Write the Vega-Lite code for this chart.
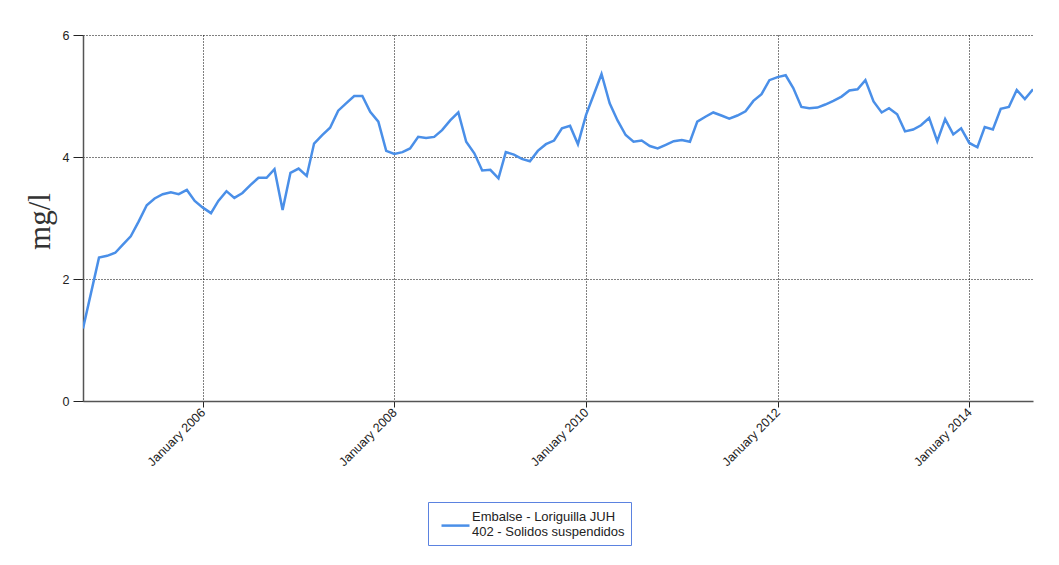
{
  "$schema": "https://vega.github.io/schema/vega-lite/v6.json",
  "width": 950,
  "height": 366,
  "autosize": {"type": "none"},
  "padding": {"left": 83, "top": 35, "right": 26, "bottom": 164},
  "background": "white",
  "config": {
    "view": {"stroke": null},
    "font": "Liberation Sans",
    "axis": {
      "gridColor": "#000000",
      "gridDash": [1, 2],
      "gridOpacity": 1,
      "gridWidth": 1,
      "domainColor": "#555555",
      "domainWidth": 1.5,
      "tickColor": "#222222",
      "tickWidth": 1,
      "labelColor": "#222222",
      "labelFont": "Liberation Sans"
    }
  },
  "data": {
    "values": [
      {"fecha": "2004-10-01", "valor": 1.19, "serie": "s"},
      {"fecha": "2004-12-01", "valor": 2.35, "serie": "s"},
      {"fecha": "2005-01-01", "valor": 2.38, "serie": "s"},
      {"fecha": "2005-02-01", "valor": 2.43, "serie": "s"},
      {"fecha": "2005-03-01", "valor": 2.56, "serie": "s"},
      {"fecha": "2005-04-01", "valor": 2.70, "serie": "s"},
      {"fecha": "2005-05-01", "valor": 2.94, "serie": "s"},
      {"fecha": "2005-06-01", "valor": 3.21, "serie": "s"},
      {"fecha": "2005-07-01", "valor": 3.32, "serie": "s"},
      {"fecha": "2005-08-01", "valor": 3.39, "serie": "s"},
      {"fecha": "2005-09-01", "valor": 3.42, "serie": "s"},
      {"fecha": "2005-10-01", "valor": 3.39, "serie": "s"},
      {"fecha": "2005-11-01", "valor": 3.46, "serie": "s"},
      {"fecha": "2005-12-01", "valor": 3.28, "serie": "s"},
      {"fecha": "2006-01-01", "valor": 3.17, "serie": "s"},
      {"fecha": "2006-02-01", "valor": 3.08, "serie": "s"},
      {"fecha": "2006-03-01", "valor": 3.28, "serie": "s"},
      {"fecha": "2006-04-01", "valor": 3.44, "serie": "s"},
      {"fecha": "2006-05-01", "valor": 3.33, "serie": "s"},
      {"fecha": "2006-06-01", "valor": 3.41, "serie": "s"},
      {"fecha": "2006-07-01", "valor": 3.54, "serie": "s"},
      {"fecha": "2006-08-01", "valor": 3.66, "serie": "s"},
      {"fecha": "2006-09-01", "valor": 3.66, "serie": "s"},
      {"fecha": "2006-10-01", "valor": 3.80, "serie": "s"},
      {"fecha": "2006-11-01", "valor": 3.13, "serie": "s"},
      {"fecha": "2006-12-01", "valor": 3.74, "serie": "s"},
      {"fecha": "2007-01-01", "valor": 3.81, "serie": "s"},
      {"fecha": "2007-02-01", "valor": 3.69, "serie": "s"},
      {"fecha": "2007-03-01", "valor": 4.22, "serie": "s"},
      {"fecha": "2007-04-01", "valor": 4.36, "serie": "s"},
      {"fecha": "2007-05-01", "valor": 4.48, "serie": "s"},
      {"fecha": "2007-06-01", "valor": 4.76, "serie": "s"},
      {"fecha": "2007-07-01", "valor": 4.88, "serie": "s"},
      {"fecha": "2007-08-01", "valor": 5.00, "serie": "s"},
      {"fecha": "2007-09-01", "valor": 5.00, "serie": "s"},
      {"fecha": "2007-10-01", "valor": 4.74, "serie": "s"},
      {"fecha": "2007-11-01", "valor": 4.58, "serie": "s"},
      {"fecha": "2007-12-01", "valor": 4.10, "serie": "s"},
      {"fecha": "2008-01-01", "valor": 4.05, "serie": "s"},
      {"fecha": "2008-02-01", "valor": 4.08, "serie": "s"},
      {"fecha": "2008-03-01", "valor": 4.14, "serie": "s"},
      {"fecha": "2008-04-01", "valor": 4.33, "serie": "s"},
      {"fecha": "2008-05-01", "valor": 4.31, "serie": "s"},
      {"fecha": "2008-06-01", "valor": 4.33, "serie": "s"},
      {"fecha": "2008-07-01", "valor": 4.44, "serie": "s"},
      {"fecha": "2008-08-01", "valor": 4.60, "serie": "s"},
      {"fecha": "2008-09-01", "valor": 4.73, "serie": "s"},
      {"fecha": "2008-10-01", "valor": 4.25, "serie": "s"},
      {"fecha": "2008-11-01", "valor": 4.06, "serie": "s"},
      {"fecha": "2008-12-01", "valor": 3.78, "serie": "s"},
      {"fecha": "2009-01-01", "valor": 3.79, "serie": "s"},
      {"fecha": "2009-02-01", "valor": 3.65, "serie": "s"},
      {"fecha": "2009-03-01", "valor": 4.08, "serie": "s"},
      {"fecha": "2009-04-01", "valor": 4.04, "serie": "s"},
      {"fecha": "2009-05-01", "valor": 3.97, "serie": "s"},
      {"fecha": "2009-06-01", "valor": 3.93, "serie": "s"},
      {"fecha": "2009-07-01", "valor": 4.10, "serie": "s"},
      {"fecha": "2009-08-01", "valor": 4.21, "serie": "s"},
      {"fecha": "2009-09-01", "valor": 4.27, "serie": "s"},
      {"fecha": "2009-10-01", "valor": 4.47, "serie": "s"},
      {"fecha": "2009-11-01", "valor": 4.51, "serie": "s"},
      {"fecha": "2009-12-01", "valor": 4.21, "serie": "s"},
      {"fecha": "2010-01-01", "valor": 4.69, "serie": "s"},
      {"fecha": "2010-02-01", "valor": 5.04, "serie": "s"},
      {"fecha": "2010-03-01", "valor": 5.36, "serie": "s"},
      {"fecha": "2010-04-01", "valor": 4.88, "serie": "s"},
      {"fecha": "2010-05-01", "valor": 4.60, "serie": "s"},
      {"fecha": "2010-06-01", "valor": 4.36, "serie": "s"},
      {"fecha": "2010-07-01", "valor": 4.25, "serie": "s"},
      {"fecha": "2010-08-01", "valor": 4.27, "serie": "s"},
      {"fecha": "2010-09-01", "valor": 4.18, "serie": "s"},
      {"fecha": "2010-10-01", "valor": 4.14, "serie": "s"},
      {"fecha": "2010-11-01", "valor": 4.20, "serie": "s"},
      {"fecha": "2010-12-01", "valor": 4.26, "serie": "s"},
      {"fecha": "2011-01-01", "valor": 4.28, "serie": "s"},
      {"fecha": "2011-02-01", "valor": 4.25, "serie": "s"},
      {"fecha": "2011-03-01", "valor": 4.58, "serie": "s"},
      {"fecha": "2011-04-01", "valor": 4.66, "serie": "s"},
      {"fecha": "2011-05-01", "valor": 4.73, "serie": "s"},
      {"fecha": "2011-06-01", "valor": 4.68, "serie": "s"},
      {"fecha": "2011-07-01", "valor": 4.63, "serie": "s"},
      {"fecha": "2011-08-01", "valor": 4.68, "serie": "s"},
      {"fecha": "2011-09-01", "valor": 4.75, "serie": "s"},
      {"fecha": "2011-10-01", "valor": 4.92, "serie": "s"},
      {"fecha": "2011-11-01", "valor": 5.03, "serie": "s"},
      {"fecha": "2011-12-01", "valor": 5.26, "serie": "s"},
      {"fecha": "2012-01-01", "valor": 5.31, "serie": "s"},
      {"fecha": "2012-02-01", "valor": 5.34, "serie": "s"},
      {"fecha": "2012-03-01", "valor": 5.13, "serie": "s"},
      {"fecha": "2012-04-01", "valor": 4.82, "serie": "s"},
      {"fecha": "2012-05-01", "valor": 4.80, "serie": "s"},
      {"fecha": "2012-06-01", "valor": 4.81, "serie": "s"},
      {"fecha": "2012-07-01", "valor": 4.86, "serie": "s"},
      {"fecha": "2012-08-01", "valor": 4.92, "serie": "s"},
      {"fecha": "2012-09-01", "valor": 4.99, "serie": "s"},
      {"fecha": "2012-10-01", "valor": 5.09, "serie": "s"},
      {"fecha": "2012-11-01", "valor": 5.11, "serie": "s"},
      {"fecha": "2012-12-01", "valor": 5.26, "serie": "s"},
      {"fecha": "2013-01-01", "valor": 4.91, "serie": "s"},
      {"fecha": "2013-02-01", "valor": 4.73, "serie": "s"},
      {"fecha": "2013-03-01", "valor": 4.80, "serie": "s"},
      {"fecha": "2013-04-01", "valor": 4.70, "serie": "s"},
      {"fecha": "2013-05-01", "valor": 4.42, "serie": "s"},
      {"fecha": "2013-06-01", "valor": 4.45, "serie": "s"},
      {"fecha": "2013-07-01", "valor": 4.52, "serie": "s"},
      {"fecha": "2013-08-01", "valor": 4.64, "serie": "s"},
      {"fecha": "2013-09-01", "valor": 4.26, "serie": "s"},
      {"fecha": "2013-10-01", "valor": 4.62, "serie": "s"},
      {"fecha": "2013-11-01", "valor": 4.37, "serie": "s"},
      {"fecha": "2013-12-01", "valor": 4.47, "serie": "s"},
      {"fecha": "2014-01-01", "valor": 4.23, "serie": "s"},
      {"fecha": "2014-02-01", "valor": 4.16, "serie": "s"},
      {"fecha": "2014-03-01", "valor": 4.49, "serie": "s"},
      {"fecha": "2014-04-01", "valor": 4.45, "serie": "s"},
      {"fecha": "2014-05-01", "valor": 4.79, "serie": "s"},
      {"fecha": "2014-06-01", "valor": 4.82, "serie": "s"},
      {"fecha": "2014-07-01", "valor": 5.10, "serie": "s"},
      {"fecha": "2014-08-01", "valor": 4.95, "serie": "s"},
      {"fecha": "2014-09-01", "valor": 5.11, "serie": "s"}
    ]
  },
  "mark": {"type": "line", "strokeWidth": 2.5, "clip": true},
  "encoding": {
    "x": {
      "field": "fecha",
      "type": "temporal",
      "scale": {
        "type": "utc",
        "domain": [
          {"year": 2004, "month": 10, "date": 1, "utc": true},
          {"year": 2014, "month": 9, "date": 1, "utc": true}
        ]
      },
      "axis": {
        "title": null,
        "values": [
          {"year": 2006, "month": 1, "date": 1, "utc": true},
          {"year": 2008, "month": 1, "date": 1, "utc": true},
          {"year": 2010, "month": 1, "date": 1, "utc": true},
          {"year": 2012, "month": 1, "date": 1, "utc": true},
          {"year": 2014, "month": 1, "date": 1, "utc": true}
        ],
        "labelExpr": "utcFormat(datum.value, '%B %Y')",
        "labelAngle": -45,
        "labelAlign": "right",
        "labelBaseline": "middle",
        "labelFontSize": 12.5,
        "labelPadding": 3,
        "labelFlush": false,
        "labelOverlap": false,
        "tickSize": 6,
        "grid": true
      }
    },
    "y": {
      "field": "valor",
      "type": "quantitative",
      "scale": {"domain": [0, 6], "nice": false, "zero": true},
      "axis": {
        "title": "mg/l",
        "titleFont": "Liberation Serif",
        "titleFontSize": 31,
        "titleFontWeight": "normal",
        "titleColor": "#333333",
        "titleAngle": -90,
        "titleAlign": "center",
        "titleBaseline": "middle",
        "titleX": -43,
        "titleY": 186,
        "values": [0, 2, 4, 6],
        "tickSize": 10,
        "labelFontSize": 12.5,
        "labelPadding": 4,
        "grid": true
      }
    },
    "color": {
      "field": "serie",
      "type": "nominal",
      "scale": {"range": ["#4a8fe8"]},
      "legend": {
        "title": null,
        "orient": "none",
        "legendX": 345,
        "legendY": 467,
        "direction": "vertical",
        "strokeColor": "#5b82e0",
        "fillColor": "white",
        "padding": 6,
        "symbolType": "M-2,1.3L2,1.3",
        "symbolSize": 196,
        "symbolStrokeWidth": 2.5,
        "symbolOffset": 13,
        "labelExpr": "['Embalse - Loriguilla JUH', '402 - Solidos suspendidos']",
        "labelFontSize": 13,
        "labelColor": "#222222",
        "labelLimit": 400,
        "labelOffset": 8
      }
    }
  }
}
